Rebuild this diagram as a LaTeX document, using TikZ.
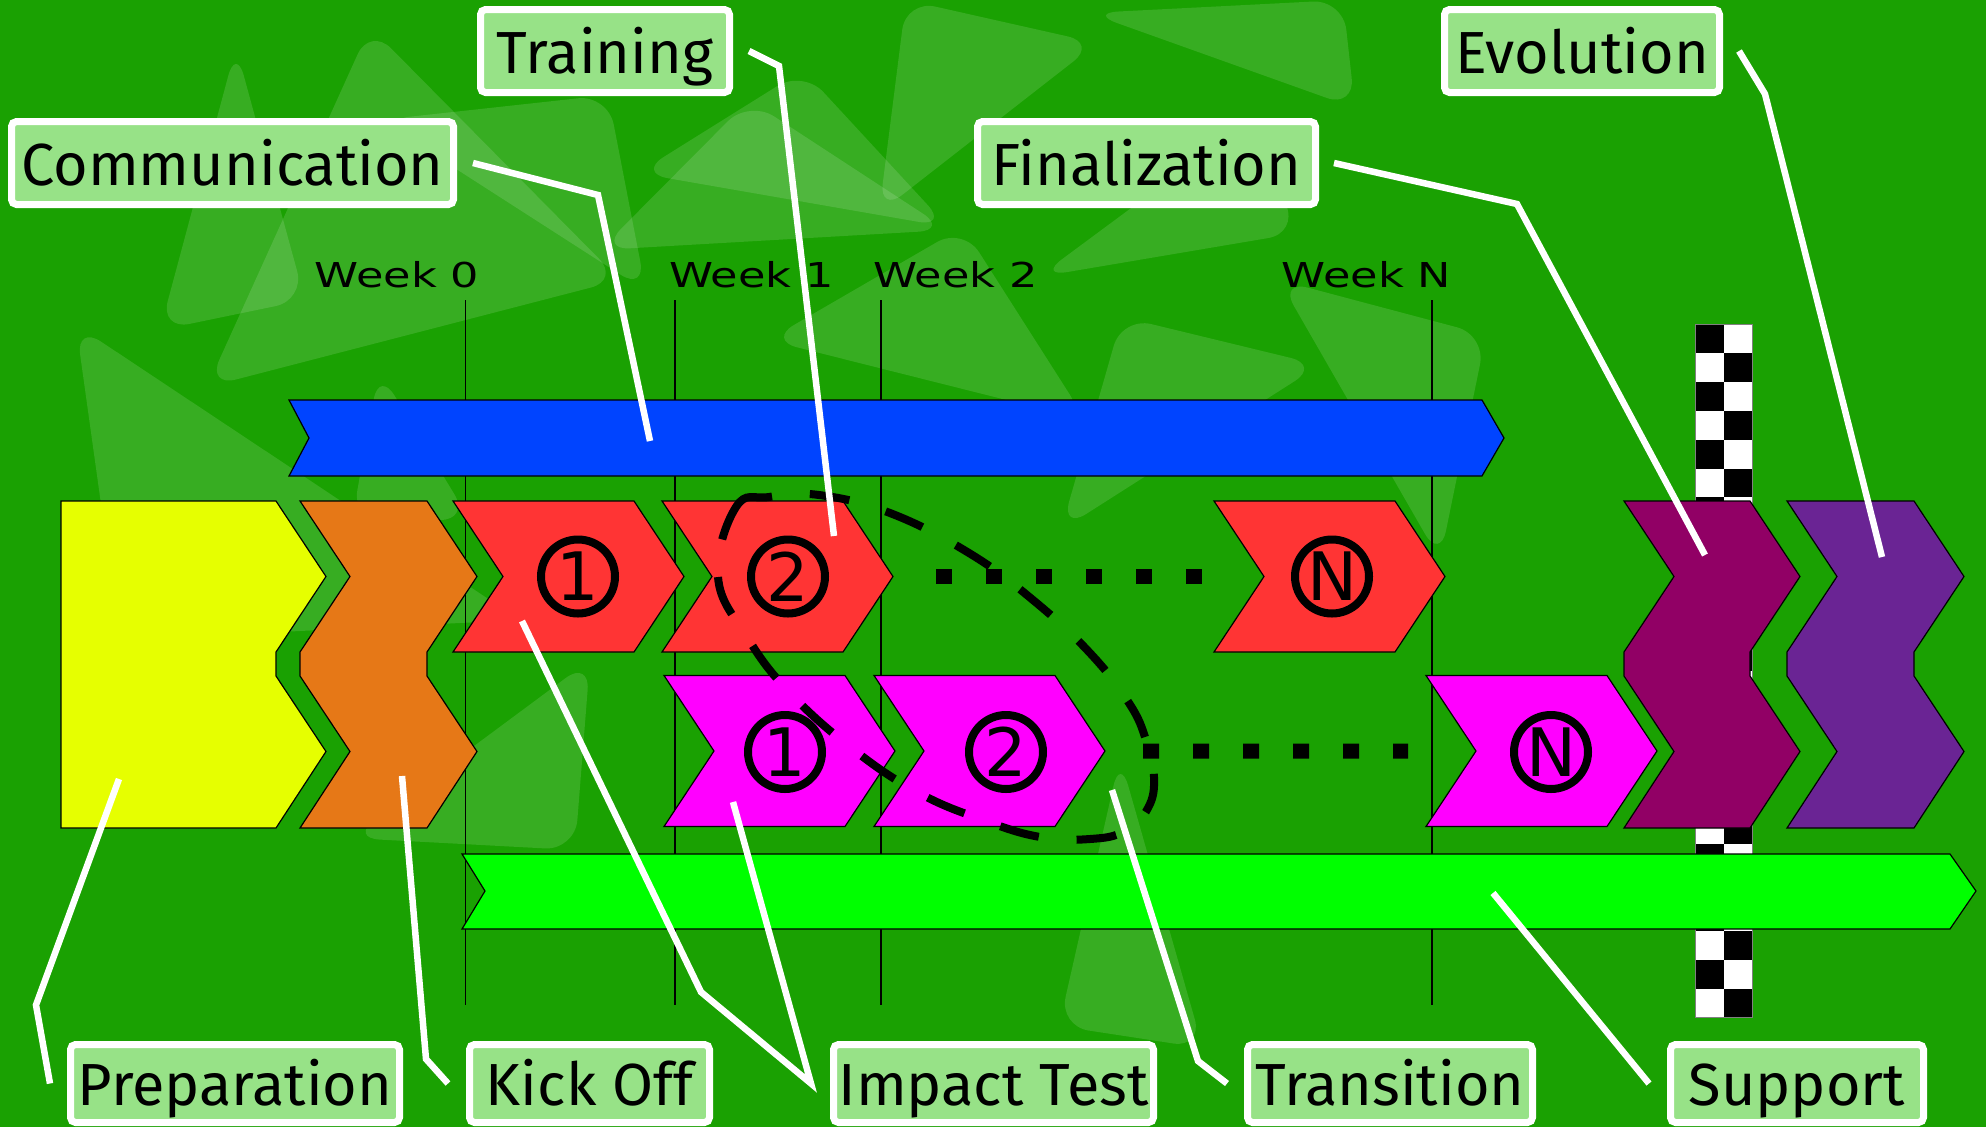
\documentclass[tikz,border=0pt]{standalone}
\usepackage{fontspec}
\setmainfont{Fira Sans}
\newfontfamily\numfont{DejaVu Sans}
\newfontfamily\weekfont{DejaVu Sans}

\definecolor{bg-green}{HTML}{1AA102}
\definecolor{label-green}{HTML}{97E287}
\definecolor{comm-blue}{HTML}{0044FF}
\definecolor{support-green}{HTML}{00FF00}
\definecolor{prep-yellow}{HTML}{E6FF00}
\definecolor{kick-orange}{HTML}{E67817}
\definecolor{train-red}{HTML}{FF3434}
\definecolor{impact-magenta}{HTML}{FF00FF}
\definecolor{final-purple}{HTML}{910065}
\definecolor{evol-purple}{HTML}{6A2494}

\tikzstyle{phase-label}=[draw=white, line width=0.7mm, fill=label-green, rounded corners=0.5mm,
  minimum height=8.3mm, inner sep=0pt, text height=5.4mm, text depth=1mm,
  font=\fontsize{16.9pt}{19pt}\selectfont]
\tikzstyle{week-label}=[anchor=base, inner sep=0pt, font=\weekfont\fontsize{9.76pt}{11pt}\selectfont]
\tikzstyle{step-num}=[circle, draw=black, line width=0.8mm, minimum size=7.4mm, inner sep=0pt,
  font=\numfont\fontsize{19pt}{20pt}\selectfont]
\tikzstyle{shape-line}=[draw=black, line width=0.12mm]
\tikzstyle{leader}=[draw=white, line width=0.65mm]
\tikzstyle{dots}=[line width=1.5mm, dash pattern=on 1.6mm off 3.4mm]
\tikzstyle{loop-line}=[line width=0.8mm, dash pattern=on 4mm off 3.8mm]
\tikzstyle{week-line}=[line width=0.15mm]
\tikzstyle{bg-tri}=[fill=white, fill opacity=0.13, rounded corners=3mm]

% one step of a phase: name, left x, centre y, colour
\newcommand{\stepchevron}[4]{%
  \filldraw[shape-line, fill=#4] (#2,#3-75.5) -- ++(181,0) -- ++(50,75.5)
    coordinate (#1-tip) -- ++(-50,75.5) -- ++(-181,0) -- ++(50,-75.5) -- cycle;
  \coordinate (#1-tail) at (#2,#3);
}
% tall block spanning both rows: left x, width, colour
\newcommand{\phaseblock}[3]{%
  \filldraw[shape-line, fill=#3] (#1,501) -- ++(#2,0) -- ++(50,75.5) -- ++(-50,75.5)
    -- ++(0,24) -- ++(50,75.5) -- ++(-50,76.5) -- ++(-#2,0) -- ++(50,-76.5)
    -- ++(-50,-75.5) -- ++(0,-24) -- ++(50,-75.5) -- cycle;
}
\newcommand{\weektext}[1]{\scalebox{1.3}[1]{#1}}

\begin{document}
\begin{tikzpicture}[x=0.1mm, y=-0.1mm]
  \useasboundingbox (0,0) rectangle (1986,1127);
  \fill[bg-green] (0,0) rectangle (1986,1127);

  % background
  \foreach \ax/\ay/\bx/\by/\cx/\cy in {
      236/47/305/300/160/330, 370/27/207/387/620/280, 76/325/120/640/520/620,
      379/370/352/520/470/520, 380/120/608/95/646/291, 638/173/803/70/948/227,
      749/100/948/230/600/250, 963/227/768/340/1086/420, 879/213/906/0/1097/43,
      1089/13/1343/0/1355/108, 1038/277/1298/233/1250/120,
      1279/280/1486/335/1440/560, 1122/317/1320/365/1061/530,
      590/660/350/838/575/850, 1120/757/1059/1026/1203/1048}
    \fill[bg-tri] (\ax,\ay) -- (\bx,\by) -- (\cx,\cy) -- cycle;

  % weeks
  \foreach \x in {465.5, 675, 881, 1432}
    \draw[week-line] (\x,300) -- (\x,1005);
  \node[week-label] (week0) at (397,287.5) {\weektext{Week 0}};
  \node[week-label] (week1) at (751.5,287.5) {\weektext{Week 1}};
  \node[week-label] (week2) at (955.5,287.5) {\weektext{Week 2}};
  \node[week-label] (weekN) at (1366.5,287.5) {\weektext{Week N}};

  % finish flag
  \fill[white] (1695,324) rectangle (1752,1017);
  \foreach \i in {0,...,23} {
    \pgfmathsetmacro\fx{1695+28.5*mod(\i,2)}
    \pgfmathsetmacro\fy{324+28.9*\i}
    \fill[black] (\fx,\fy) rectangle ++(28.5,28.9);
  }
  \draw[gray, line width=0.1mm] (1695,324) rectangle (1752,1017);

  % bars
  \filldraw[shape-line, fill=comm-blue] (289,400) -- (1482,400) -- (1504,438)
    -- (1482,476) -- (289,476) -- (309,438) -- cycle;
  \filldraw[shape-line, fill=support-green] (462,854) -- (1950,854) -- (1976,891)
    -- (1950,929) -- (462,929) -- (485,891) -- cycle;

  % phases
  \filldraw[shape-line, fill=prep-yellow] (61,501) -- (276,501) -- ++(50,75.5) -- ++(-50,75.5)
    -- ++(0,24) -- ++(50,75.5) -- ++(-50,76.5) -- (61,828) -- cycle;
  \phaseblock{300}{127}{kick-orange}
  \phaseblock{1624}{126}{final-purple}
  \phaseblock{1787}{127}{evol-purple}

  \stepchevron{train1}{453}{576.5}{train-red}
  \stepchevron{train2}{662}{576.5}{train-red}
  \stepchevron{trainN}{1214}{576.5}{train-red}
  \stepchevron{impact1}{664}{751}{impact-magenta}
  \stepchevron{impact2}{874}{751}{impact-magenta}
  \stepchevron{impactN}{1426}{751}{impact-magenta}

  \node[step-num] (red1) at (578,576.5) {1};
  \node[step-num] (red2) at (788,576.5) {2};
  \node[step-num] (redN) at (1332,576.5) {N};
  \node[step-num] (mag1) at (785,752) {1};
  \node[step-num] (mag2) at (1006,752) {2};
  \node[step-num] (magN) at (1551,752) {N};

  \draw[dots] ([xshift=4.3mm]train2-tip) -- ([xshift=-1.1mm]trainN-tail);
  \draw[dots] ([xshift=3.8mm]impact2-tip) -- ([xshift=-1.8mm]impactN-tail);

  \draw[loop-line] plot[smooth cycle, tension=0.7] coordinates {(718,577) (736,507) (769,497)
    (819,495) (890,513) (969,553) (1033,600) (1090,653) (1129,703) (1146,740) (1154,777)
    (1148,808) (1125,831) (1090,839) (1040,837) (983,820) (919,793) (854,750) (790,693)
    (747,637)};

  % labels
  \node[phase-label, minimum width=44.2mm] (comm) at (232.5,163) {Communication};
  \node[phase-label, minimum width=24.9mm] (train) at (605,51) {Training};
  \node[phase-label, minimum width=33.8mm] (final) at (1146.5,163) {Finalization};
  \node[phase-label, minimum width=27.5mm] (evol) at (1582,51) {Evolution};
  \node[phase-label, minimum width=32.9mm, minimum height=7.8mm] (prep) at (235,1083.5) {Preparation};
  \node[phase-label, minimum width=24mm, minimum height=7.8mm] (kick) at (589.5,1083.5) {Kick Off};
  \node[phase-label, minimum width=32mm, minimum height=7.8mm] (impact) at (993.5,1083.5) {Impact Test};
  \node[phase-label, minimum width=28.5mm, minimum height=7.8mm] (trans) at (1390,1083.5) {Transition};
  \node[phase-label, minimum width=25.3mm, minimum height=7.8mm] (support) at (1797,1083.5) {Support};

  % leaders
  \coordinate (comm-end) at (650,441);
  \coordinate (train-end) at (834,536);
  \coordinate (final-end) at (1705,555);
  \coordinate (evol-end) at (1882,557);
  \coordinate (prep-end) at (119,779);
  \coordinate (kick-end) at (402,776);
  \coordinate (impact-end1) at (522,621);
  \coordinate (impact-end2) at (733,802);
  \coordinate (trans-end) at (1112,790);
  \coordinate (support-end) at (1493,893);

  \draw[leader] ([xshift=1.6mm]comm.east) -- (598,195) -- (comm-end);
  \draw[leader] ([xshift=1.6mm]train.east) -- (779,66) -- (train-end);
  \draw[leader] ([xshift=1.5mm]final.east) -- (1517,204) -- (final-end);
  \draw[leader] ([xshift=1.6mm]evol.east) -- (1765,94) -- (evol-end);
  \draw[leader] (prep-end) -- (36,1005) -- ([xshift=-1.7mm]prep.west);
  \draw[leader] (kick-end) -- (426,1059) -- ([xshift=-1.8mm]kick.west);
  \draw[leader] (impact-end1) -- (701,992) -- ([xshift=-1.9mm]impact.west) -- (impact-end2);
  \draw[leader] (trans-end) -- (1198,1061) -- ([xshift=-1.7mm]trans.west);
  \draw[leader] (support-end) -- ([xshift=-1.8mm]support.west);
\end{tikzpicture}
\end{document}
